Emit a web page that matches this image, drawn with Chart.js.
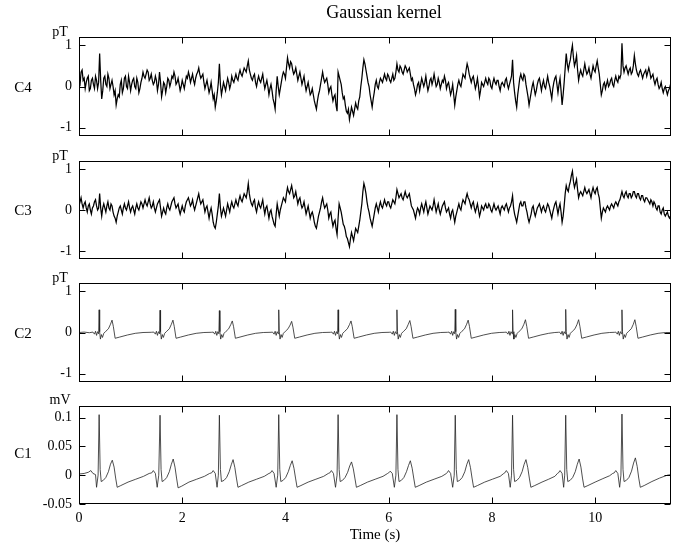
<!DOCTYPE html>
<html>
<head>
<meta charset="utf-8">
<script src="https://cdn.jsdelivr.net/npm/chart.js@4.4.1/dist/chart.umd.min.js"></script>
<style>
  html, body { margin: 0; padding: 0; background: #fff; }
  #wrap { position: relative; width: 681px; height: 545px; overflow: hidden;
          font-family: "Liberation Serif", "Times New Roman", serif; color: #000; }
  #wrap canvas { position: absolute; left: 0; top: 0; }
  .lbl { position: absolute; white-space: nowrap; line-height: 1; transform: translate(-50%, -50%); }
</style>
</head>
<body>
<div id="wrap">
  <canvas id="chC4" width="681" height="545"></canvas>
  <canvas id="chC3" width="681" height="545"></canvas>
  <canvas id="chC2" width="681" height="545"></canvas>
  <canvas id="chC1" width="681" height="545"></canvas>
  <div class="lbl" style="left:384px;top:12px;font-size:18px;">Gaussian kernel</div>
  <div class="lbl" style="left:23px;top:87px;font-size:15px;">C4</div>
  <div class="lbl" style="left:23px;top:210px;font-size:15px;">C3</div>
  <div class="lbl" style="left:23px;top:333px;font-size:15px;">C2</div>
  <div class="lbl" style="left:23px;top:453px;font-size:15px;">C1</div>
  <div class="lbl" style="left:60px;top:32px;font-size:14px;">pT</div>
  <div class="lbl" style="left:60px;top:156px;font-size:14px;">pT</div>
  <div class="lbl" style="left:60px;top:278px;font-size:14px;">pT</div>
  <div class="lbl" style="left:60px;top:400px;font-size:14px;">mV</div>
</div>
<script>
// Shared time axis
const timeMax = 11.47;
const xTickValues = [0, 2, 4, 6, 8, 10];
const xTickLabels = ['0', '2', '4', '6', '8', '10'];

// Vertical ticks: magnetic channels (pT) and electric channel (mV)
const pTTickValues = [-1, 0, 1];
const pTTickLabels = ['-1', '0', '1'];
const mVTickValues = [-0.05, 0, 0.05, 0.1];
const mVTickLabels = ['-0.05', '0', '0.05', '0.1'];

// C4 and C3 are sampled every 0.02 s starting at 0 s (pT); one row per ~1 s
const sampleStep = 0.02;

const c4Values = [
  0.10, 0.05, 0.35, 0.40, 0.15, 0.20, -0.05, 0.10, 0.20, 0.25, -0.10, -0.05, 0.15, 0.20, 0.05, -0.05, 0.25, 0.15, -0.05, 0.10, 0.80, 0.15, -0.30, -0.10, 0.20, 0.25, 0.05, 0.00, 0.30, 0.20, -0.05, 0.05, 0.15, 0.00, -0.20, -0.10, -0.45, -0.30, -0.20, -0.25, 0.05, 0.15, -0.15, -0.05, 0.20, 0.25, 0.00, -0.05, 0.25, 0.10,
  -0.10, 0.05, 0.15, 0.20, 0.00, -0.05, 0.20, 0.10, -0.15, -0.05, 0.10, 0.20, 0.35, 0.25, 0.20, 0.30, 0.40, 0.35, 0.15, 0.20, 0.30, 0.15, 0.05, 0.10, 0.25, 0.15, -0.10, 0.05, 0.35, 0.10, -0.25, -0.10, 0.10, 0.05, -0.15, 0.00, 0.20, 0.15, 0.00, 0.10, 0.25, 0.20, 0.35, 0.25, 0.05, 0.10, 0.20, 0.05, -0.10, 0.00, 0.15, 0.05,
  -0.05, 0.10, 0.25, 0.20, 0.35, 0.25, 0.10, 0.20, 0.30, 0.15, 0.05, 0.20, 0.30, 0.35, 0.45, 0.30, 0.20, 0.25, 0.30, 0.10, -0.05, 0.05, 0.15, 0.00, -0.15, -0.05, 0.10, -0.10, -0.30, -0.20, -0.50, -0.35, -0.15, 0.10, 0.55, 0.05, -0.20, -0.05, 0.10, 0.00, -0.10, 0.05, 0.20, 0.10, -0.05, 0.05, 0.25, 0.15, 0.10, 0.20,
  0.30, 0.20, 0.15, 0.30, 0.40, 0.30, 0.25, 0.35, 0.45, 0.40, 0.35, 0.50, 0.62, 0.40, 0.30, 0.20, 0.15, 0.25, 0.30, 0.10, 0.00, 0.15, 0.25, 0.15, 0.10, 0.20, 0.30, 0.10, -0.05, 0.05, 0.15, 0.00, -0.20, -0.05, 0.05, -0.10, -0.30, -0.40, -0.55, -0.10, 0.25, 0.00, -0.20, -0.05, 0.10, 0.25, 0.35, 0.30, 0.20, 0.45,
  0.70, 0.55, 0.45, 0.60, 0.55, 0.40, 0.30, 0.35, 0.45, 0.30, 0.15, 0.25, 0.35, 0.20, 0.05, 0.15, 0.25, 0.05, -0.10, 0.00, 0.10, -0.05, -0.20, -0.15, -0.05, -0.20, -0.35, -0.45, -0.55, -0.35, -0.20, -0.10, 0.05, 0.20, 0.35, 0.20, 0.10, 0.15, 0.20, 0.05, -0.15, -0.05, 0.00, -0.20, -0.35, -0.25, -0.20, -0.45, -0.60, 0.35,
  0.25, 0.15, 0.05, -0.15, -0.30, -0.25, -0.45, -0.60, -0.65, -0.55, -0.80, -0.65, -0.50, -0.60, -0.70, -0.55, -0.40, -0.50, -0.55, -0.35, -0.25, 0.00, 0.20, 0.45, 0.65, 0.55, 0.40, 0.25, 0.10, 0.00, -0.20, -0.35, -0.50, -0.30, -0.15, 0.05, 0.15, 0.00, -0.05, 0.10, 0.20, 0.15, 0.10, 0.20, 0.30, 0.20, 0.15, 0.30, 0.25, 0.15,
  0.10, 0.20, 0.30, 0.15, 0.20, 0.35, 0.55, 0.40, 0.35, 0.50, 0.45, 0.35, 0.30, 0.40, 0.50, 0.45, 0.35, 0.40, 0.45, 0.30, 0.15, 0.20, 0.05, -0.05, -0.20, -0.10, 0.05, 0.10, -0.10, 0.05, 0.20, 0.10, 0.00, 0.10, 0.25, 0.05, -0.10, 0.00, 0.15, 0.20, 0.05, 0.15, 0.30, 0.15, 0.00, 0.05, 0.20, 0.10, -0.05, 0.05,
  0.15, 0.10, 0.25, 0.15, -0.05, 0.05, 0.10, -0.05, -0.20, -0.10, 0.05, -0.20, -0.45, -0.25, -0.10, 0.05, 0.15, 0.05, 0.00, 0.15, 0.30, 0.25, 0.20, 0.40, 0.55, 0.45, 0.30, 0.20, 0.10, 0.20, 0.25, 0.10, -0.05, 0.05, 0.20, 0.00, -0.25, -0.10, 0.10, 0.05, 0.00, 0.10, 0.20, 0.10, 0.05, 0.20, 0.15, 0.00, -0.05, 0.10,
  0.20, 0.10, 0.05, 0.15, 0.15, 0.00, -0.10, 0.05, 0.10, 0.05, 0.00, 0.15, 0.20, 0.05, -0.05, 0.05, 0.15, 0.25, 0.65, 0.10, -0.15, -0.35, -0.50, -0.20, 0.00, 0.20, 0.30, 0.20, 0.15, 0.30, 0.25, 0.05, -0.10, -0.25, -0.45, -0.30, -0.15, 0.00, 0.10, -0.05, -0.20, -0.10, 0.05, 0.15, 0.20, 0.05, -0.10, 0.05, 0.15, 0.00,
  -0.05, 0.10, 0.25, 0.10, 0.00, -0.15, -0.30, -0.05, 0.10, 0.20, 0.25, 0.05, -0.15, 0.05, 0.20, -0.10, -0.45, -0.20, 0.10, 0.45, 0.80, 0.55, 0.40, 0.55, 0.65, 0.85, 1.00, 0.70, 0.50, 0.60, 0.75, 0.40, 0.15, 0.30, 0.40, 0.30, 0.25, 0.40, 0.55, 0.40, 0.30, 0.35, 0.45, 0.30, 0.20, 0.35, 0.50, 0.40, 0.35, 0.50,
  0.62, 0.45, 0.30, 0.05, -0.20, -0.10, 0.05, 0.10, -0.05, 0.05, 0.15, 0.00, 0.05, 0.15, 0.20, 0.05, 0.00, 0.15, 0.25, 0.15, 0.10, 0.25, 0.20, 0.30, 1.05, 0.50, 0.35, 0.45, 0.50, 0.40, 0.30, 0.40, 0.45, 0.30, 0.35, 0.50, 0.75, 0.55, 0.40, 0.30, 0.25, 0.35, 0.40, 0.30, 0.20, 0.30, 0.35, 0.40, 0.25, 0.35,
  0.45, 0.35, 0.20, 0.25, 0.30, 0.15, 0.05, 0.15, 0.20, 0.05, -0.05, 0.00, 0.10, -0.05, -0.15, -0.05, 0.00, -0.10, -0.20, -0.10, -0.05, 0.05, 0.00
];

const c3Values = [
  0.10, 0.20, 0.30, 0.15, 0.05, 0.15, 0.20, 0.05, -0.05, 0.10, 0.15, 0.00, -0.10, 0.05, 0.10, 0.20, 0.25, 0.10, 0.00, 0.05, 0.40, 0.05, -0.15, 0.05, 0.15, 0.05, -0.05, 0.10, 0.20, 0.05, 0.00, 0.15, 0.10, -0.05, -0.15, -0.20, -0.30, -0.15, -0.05, 0.05, 0.10, 0.00, -0.10, 0.05, 0.15, 0.05, 0.00, 0.10, 0.20, 0.05,
  -0.05, 0.05, 0.10, 0.00, -0.10, 0.05, 0.15, 0.05, 0.00, 0.10, 0.20, 0.15, 0.05, 0.15, 0.25, 0.15, 0.10, 0.20, 0.30, 0.15, 0.05, 0.10, 0.20, 0.05, -0.05, 0.05, 0.15, 0.20, 0.25, 0.05, -0.15, -0.05, 0.05, -0.05, -0.10, 0.05, 0.15, 0.05, 0.00, 0.10, 0.20, 0.25, 0.30, 0.15, 0.05, 0.10, 0.15, 0.00, -0.10, 0.00, 0.10, 0.00,
  -0.05, 0.10, 0.20, 0.25, 0.30, 0.20, 0.10, 0.15, 0.25, 0.10, 0.00, 0.10, 0.20, 0.30, 0.40, 0.25, 0.15, 0.20, 0.25, 0.10, -0.05, 0.05, 0.10, -0.05, -0.20, -0.05, 0.05, -0.10, -0.30, -0.40, -0.45, -0.30, -0.10, 0.10, 0.40, 0.05, -0.15, -0.05, 0.05, -0.05, -0.15, 0.00, 0.15, 0.05, -0.05, 0.10, 0.20, 0.10, 0.05, 0.15,
  0.25, 0.15, 0.10, 0.25, 0.35, 0.25, 0.20, 0.30, 0.40, 0.35, 0.30, 0.45, 0.65, 0.40, 0.25, 0.15, 0.10, 0.20, 0.25, 0.05, -0.05, 0.10, 0.20, 0.10, 0.05, 0.15, 0.25, 0.05, -0.10, 0.05, 0.10, -0.05, -0.20, -0.05, 0.00, -0.15, -0.25, -0.35, -0.40, -0.10, 0.15, 0.00, -0.15, 0.00, 0.10, 0.20, 0.30, 0.25, 0.20, 0.40,
  0.55, 0.45, 0.40, 0.50, 0.60, 0.45, 0.30, 0.35, 0.45, 0.30, 0.15, 0.25, 0.30, 0.15, 0.05, 0.10, 0.20, 0.05, -0.10, 0.00, 0.10, -0.05, -0.20, -0.10, -0.05, -0.15, -0.30, -0.40, -0.45, -0.30, -0.15, -0.05, 0.05, 0.20, 0.30, 0.15, 0.05, 0.10, 0.15, 0.00, -0.20, -0.10, -0.05, -0.25, -0.40, -0.30, -0.25, -0.45, -0.60, -0.20,
  0.15, 0.05, -0.05, -0.20, -0.35, -0.40, -0.50, -0.65, -0.70, -0.80, -0.90, -0.70, -0.55, -0.65, -0.75, -0.60, -0.45, -0.50, -0.55, -0.40, -0.25, -0.05, 0.15, 0.45, 0.65, 0.55, 0.40, 0.20, 0.05, -0.05, -0.20, -0.30, -0.40, -0.25, -0.10, 0.05, 0.15, 0.05, -0.05, 0.10, 0.20, 0.10, 0.05, 0.15, 0.25, 0.15, 0.10, 0.20, 0.20, 0.10,
  0.05, 0.15, 0.25, 0.20, 0.15, 0.30, 0.50, 0.40, 0.30, 0.35, 0.40, 0.30, 0.25, 0.35, 0.45, 0.35, 0.30, 0.35, 0.40, 0.25, 0.10, 0.05, 0.00, -0.10, -0.20, -0.05, 0.05, 0.00, -0.10, 0.05, 0.15, 0.05, -0.05, 0.10, 0.20, 0.05, -0.10, 0.00, 0.10, 0.05, 0.00, 0.10, 0.25, 0.10, -0.05, 0.05, 0.15, 0.00, -0.10, 0.00,
  0.10, 0.15, 0.20, 0.05, -0.05, 0.00, 0.05, -0.10, -0.20, -0.05, 0.00, -0.15, -0.30, -0.15, -0.05, 0.05, 0.15, 0.05, 0.00, 0.15, 0.25, 0.20, 0.15, 0.30, 0.40, 0.30, 0.25, 0.15, 0.05, 0.15, 0.20, 0.05, -0.05, 0.05, 0.15, 0.00, -0.15, -0.05, 0.10, 0.05, 0.00, 0.10, 0.15, 0.05, 0.05, 0.15, 0.10, 0.00, -0.05, 0.05,
  0.15, 0.05, 0.00, 0.05, 0.10, 0.00, -0.10, 0.05, 0.10, 0.05, 0.00, 0.10, 0.15, 0.05, -0.05, 0.05, 0.10, 0.20, 0.35, 0.05, -0.10, -0.20, -0.30, -0.15, 0.00, 0.15, 0.20, 0.10, 0.10, 0.20, 0.20, 0.05, -0.05, -0.20, -0.30, -0.20, -0.10, 0.05, 0.10, -0.05, -0.15, -0.05, 0.05, 0.10, 0.15, 0.05, -0.05, 0.05, 0.10, 0.00,
  -0.05, 0.05, 0.15, 0.10, 0.00, -0.10, -0.20, -0.05, 0.05, 0.15, 0.20, 0.05, -0.10, 0.05, 0.15, -0.05, -0.30, -0.15, 0.10, 0.40, 0.60, 0.50, 0.45, 0.60, 0.70, 0.85, 0.95, 0.70, 0.55, 0.65, 0.75, 0.50, 0.30, 0.40, 0.45, 0.40, 0.35, 0.45, 0.55, 0.45, 0.40, 0.45, 0.50, 0.40, 0.30, 0.45, 0.55, 0.45, 0.40, 0.50,
  0.55, 0.40, 0.30, 0.05, -0.20, -0.05, 0.05, 0.00, -0.05, 0.05, 0.10, 0.05, 0.00, 0.10, 0.15, 0.10, 0.05, 0.15, 0.20, 0.15, 0.10, 0.20, 0.25, 0.35, 0.45, 0.35, 0.30, 0.40, 0.45, 0.35, 0.30, 0.40, 0.40, 0.30, 0.35, 0.45, 0.45, 0.35, 0.30, 0.40, 0.40, 0.30, 0.25, 0.35, 0.35, 0.25, 0.20, 0.30, 0.30, 0.25,
  0.20, 0.15, 0.25, 0.20, 0.10, 0.20, 0.15, 0.05, 0.00, 0.10, 0.10, -0.05, -0.10, 0.00, 0.05, -0.10, -0.15, -0.10, -0.05, -0.15, -0.20, -0.15, -0.10
];

// C2 trace: [time (s), field (pT)]
const c2Trace = [
  [0.00, 0.00], [0.10, 0.01], [0.20, -0.005],
  [0.27, 0.01], [0.30, -0.04], [0.32, 0.03], [0.34, -0.07], [0.36, 0.02], [0.38, -0.03], [0.39, 0.55], [0.40, 0.02], [0.415, -0.16], [0.435, -0.05], [0.455, -0.12], [0.48, -0.02], [0.52, 0.03], [0.57, 0.09], [0.61, 0.20], [0.64, 0.30], [0.665, 0.15], [0.70, -0.14], [0.79, -0.11], [0.94, -0.06], [1.09, -0.02], [1.24, 0.00], [1.40, 0.005],
  [1.45, 0.01], [1.48, -0.04], [1.50, 0.03], [1.52, -0.07], [1.54, 0.02], [1.56, -0.03], [1.57, 0.54], [1.58, 0.02], [1.595, -0.16], [1.615, -0.05], [1.635, -0.12], [1.66, -0.02], [1.70, 0.03], [1.75, 0.09], [1.79, 0.20], [1.82, 0.30], [1.845, 0.15], [1.88, -0.14], [1.97, -0.11], [2.12, -0.06], [2.27, -0.02], [2.42, 0.00], [2.57, 0.005],
  [2.60, 0.01], [2.63, -0.04], [2.65, 0.03], [2.67, -0.07], [2.69, 0.02], [2.71, -0.03], [2.72, 0.53], [2.73, 0.02], [2.745, -0.16], [2.765, -0.05], [2.785, -0.12], [2.81, -0.02], [2.85, 0.03], [2.90, 0.09], [2.94, 0.19], [2.97, 0.28], [2.995, 0.14], [3.03, -0.14], [3.12, -0.11], [3.27, -0.06], [3.42, -0.02], [3.57, 0.00], [3.72, 0.005],
  [3.75, 0.01], [3.78, -0.04], [3.80, 0.03], [3.82, -0.07], [3.84, 0.02], [3.86, -0.03], [3.87, 0.55], [3.88, 0.02], [3.895, -0.16], [3.915, -0.05], [3.935, -0.12], [3.96, -0.02], [4.00, 0.03], [4.05, 0.09], [4.09, 0.18], [4.12, 0.27], [4.145, 0.13], [4.18, -0.14], [4.27, -0.11], [4.42, -0.06], [4.57, -0.02], [4.72, 0.00], [4.87, 0.005],
  [4.90, 0.01], [4.93, -0.04], [4.95, 0.03], [4.97, -0.07], [4.99, 0.02], [5.01, -0.03], [5.02, 0.55], [5.03, 0.02], [5.045, -0.16], [5.065, -0.05], [5.085, -0.12], [5.11, -0.02], [5.15, 0.03], [5.20, 0.09], [5.24, 0.19], [5.27, 0.28], [5.295, 0.14], [5.33, -0.14], [5.42, -0.11], [5.57, -0.06], [5.72, -0.02], [5.87, 0.00], [6.01, 0.005],
  [6.04, 0.01], [6.07, -0.04], [6.09, 0.03], [6.11, -0.07], [6.13, 0.02], [6.15, -0.03], [6.16, 0.55], [6.17, 0.02], [6.185, -0.16], [6.205, -0.05], [6.225, -0.12], [6.25, -0.02], [6.29, 0.03], [6.34, 0.09], [6.38, 0.20], [6.41, 0.29], [6.435, 0.14], [6.47, -0.14], [6.56, -0.11], [6.71, -0.06], [6.86, -0.02], [7.01, 0.00], [7.14, 0.005],
  [7.17, 0.01], [7.20, -0.04], [7.22, 0.03], [7.24, -0.07], [7.26, 0.02], [7.28, -0.03], [7.29, 0.56], [7.30, 0.02], [7.315, -0.16], [7.335, -0.05], [7.355, -0.12], [7.38, -0.02], [7.42, 0.03], [7.47, 0.09], [7.51, 0.20], [7.54, 0.30], [7.565, 0.15], [7.60, -0.14], [7.69, -0.11], [7.84, -0.06], [7.99, -0.02], [8.14, 0.00], [8.25, 0.005],
  [8.28, 0.01], [8.31, -0.04], [8.33, 0.03], [8.35, -0.07], [8.37, 0.02], [8.39, -0.03], [8.40, 0.55], [8.41, 0.02], [8.425, -0.16], [8.445, -0.05], [8.465, -0.12], [8.49, -0.02], [8.53, 0.03], [8.58, 0.09], [8.62, 0.20], [8.65, 0.31], [8.675, 0.15], [8.71, -0.14], [8.80, -0.11], [8.95, -0.06], [9.10, -0.02], [9.22, 0.00], [9.29, 0.005],
  [9.31, 0.01], [9.34, -0.04], [9.36, 0.03], [9.38, -0.07], [9.40, 0.02], [9.42, -0.03], [9.43, 0.56], [9.44, 0.02], [9.455, -0.16], [9.475, -0.05], [9.495, -0.12], [9.52, -0.02], [9.56, 0.03], [9.61, 0.09], [9.65, 0.20], [9.68, 0.31], [9.705, 0.15], [9.74, -0.14], [9.83, -0.11], [9.98, -0.06], [10.13, -0.02], [10.28, 0.00], [10.38, 0.005],
  [10.40, 0.01], [10.43, -0.04], [10.45, 0.03], [10.47, -0.07], [10.49, 0.02], [10.51, -0.03], [10.52, 0.55], [10.53, 0.02], [10.545, -0.16], [10.565, -0.05], [10.585, -0.12], [10.61, -0.02], [10.65, 0.03], [10.70, 0.09], [10.74, 0.20], [10.77, 0.31], [10.795, 0.15], [10.83, -0.14], [10.92, -0.11], [11.07, -0.06], [11.22, -0.02], [11.37, 0.00], [11.47, 0.00]
];

// C1 trace: [time (s), potential (mV)]
const c1Trace = [
  [0.00, 0.002], [0.10, 0.003], [0.18, 0.005], [0.23, 0.008], [0.27, 0.003], [0.32, 0.001], [0.34, -0.021], [0.37, 0.000], [0.39, 0.105], [0.41, 0.010], [0.43, -0.011], [0.47, -0.009], [0.52, -0.004], [0.57, 0.006], [0.61, 0.019], [0.645, 0.026], [0.68, 0.014], [0.71, -0.005], [0.74, -0.021], [0.81, -0.018], [0.95, -0.012], [1.10, -0.007], [1.25, -0.002], [1.36, 0.003],
  [1.41, 0.004], [1.44, 0.008], [1.48, 0.003], [1.515, -0.021], [1.545, 0.000], [1.57, 0.104], [1.59, 0.010], [1.61, -0.011], [1.65, -0.009], [1.70, -0.004], [1.75, 0.006], [1.79, 0.019], [1.825, 0.028], [1.86, 0.014], [1.89, -0.005], [1.92, -0.022], [1.99, -0.019], [2.13, -0.012], [2.28, -0.007], [2.43, -0.002], [2.53, 0.003],
  [2.57, 0.004], [2.60, 0.008], [2.64, 0.003], [2.675, -0.021], [2.70, 0.000], [2.72, 0.104], [2.74, 0.010], [2.76, -0.011], [2.81, -0.009], [2.86, -0.004], [2.91, 0.006], [2.95, 0.018], [2.985, 0.027], [3.02, 0.013], [3.05, -0.005], [3.08, -0.021], [3.15, -0.018], [3.29, -0.012], [3.44, -0.007], [3.59, -0.002], [3.68, 0.003],
  [3.71, 0.004], [3.74, 0.008], [3.78, 0.003], [3.82, -0.021], [3.85, 0.000], [3.87, 0.105], [3.89, 0.010], [3.91, -0.011], [3.955, -0.009], [4.005, -0.004], [4.055, 0.006], [4.095, 0.017], [4.13, 0.025], [4.165, 0.012], [4.195, -0.005], [4.225, -0.021], [4.30, -0.018], [4.44, -0.012], [4.59, -0.007], [4.74, -0.002], [4.83, 0.003],
  [4.86, 0.004], [4.89, 0.008], [4.93, 0.003], [4.97, -0.021], [5.00, 0.000], [5.02, 0.105], [5.04, 0.010], [5.06, -0.011], [5.105, -0.009], [5.155, -0.004], [5.205, 0.005], [5.245, 0.016], [5.28, 0.023], [5.315, 0.011], [5.345, -0.005], [5.375, -0.021], [5.45, -0.018], [5.59, -0.012], [5.74, -0.007], [5.89, -0.002], [5.98, 0.003],
  [6.00, 0.004], [6.03, 0.007], [6.07, 0.003], [6.11, -0.021], [6.14, 0.000], [6.16, 0.105], [6.18, 0.010], [6.20, -0.011], [6.245, -0.009], [6.295, -0.004], [6.345, 0.006], [6.385, 0.017], [6.42, 0.025], [6.455, 0.012], [6.485, -0.005], [6.515, -0.021], [6.59, -0.018], [6.73, -0.012], [6.88, -0.007], [7.03, -0.002], [7.12, 0.003],
  [7.13, 0.004], [7.16, 0.008], [7.20, 0.003], [7.24, -0.021], [7.27, 0.000], [7.29, 0.104], [7.31, 0.010], [7.33, -0.011], [7.375, -0.009], [7.425, -0.004], [7.475, 0.006], [7.515, 0.019], [7.55, 0.027], [7.585, 0.013], [7.615, -0.005], [7.645, -0.021], [7.72, -0.018], [7.86, -0.012], [8.01, -0.007], [8.16, -0.002], [8.23, 0.003],
  [8.25, 0.004], [8.28, 0.008], [8.32, 0.003], [8.355, -0.021], [8.38, 0.000], [8.40, 0.104], [8.42, 0.010], [8.44, -0.011], [8.485, -0.009], [8.535, -0.004], [8.585, 0.006], [8.625, 0.019], [8.66, 0.027], [8.695, 0.013], [8.725, -0.005], [8.755, -0.021], [8.83, -0.018], [8.97, -0.012], [9.10, -0.007], [9.22, -0.002], [9.27, 0.003],
  [9.29, 0.004], [9.32, 0.008], [9.36, 0.003], [9.39, -0.021], [9.41, 0.000], [9.43, 0.104], [9.45, 0.010], [9.47, -0.011], [9.515, -0.009], [9.565, -0.004], [9.615, 0.006], [9.655, 0.019], [9.69, 0.028], [9.725, 0.014], [9.755, -0.005], [9.785, -0.021], [9.86, -0.018], [10.00, -0.012], [10.15, -0.006], [10.28, -0.001], [10.34, 0.003],
  [10.37, 0.004], [10.40, 0.008], [10.44, 0.003], [10.475, -0.021], [10.50, 0.000], [10.52, 0.106], [10.54, 0.010], [10.56, -0.011], [10.605, -0.009], [10.655, -0.004], [10.705, 0.007], [10.745, 0.021], [10.78, 0.030], [10.815, 0.015], [10.845, -0.005], [10.875, -0.021], [10.95, -0.018], [11.10, -0.011], [11.25, -0.005], [11.40, 0.000], [11.47, 0.001]
];

const serif = 'Liberation Serif';

// Box frame with inward tick marks on all four sides
const frameTicks = {
  id: 'frameTicks',
  afterDatasetsDraw(chart) {
    const { ctx, chartArea: a, scales: { x, y } } = chart;
    const L = Math.round(a.left) + 0.5, R = Math.round(a.right) - 0.5;
    const T = Math.round(a.top) + 0.5, B = Math.round(a.bottom) - 0.5;
    const len = 6;
    ctx.save();
    ctx.strokeStyle = '#000';
    ctx.lineWidth = 1;
    ctx.strokeRect(L, T, R - L, B - T);
    ctx.beginPath();
    x.ticks.forEach(t => {
      const px = Math.round(x.getPixelForValue(t.value)) + 0.5;
      ctx.moveTo(px, T); ctx.lineTo(px, T + len);
      ctx.moveTo(px, B); ctx.lineTo(px, B - len);
    });
    y.ticks.forEach(t => {
      const py = Math.round(y.getPixelForValue(t.value)) + 0.5;
      ctx.moveTo(L, py); ctx.lineTo(L + len, py);
      ctx.moveTo(R, py); ctx.lineTo(R - len, py);
    });
    ctx.stroke();
    ctx.restore();
  }
};

function makePanel(canvasId, points, p) {
  return new Chart(document.getElementById(canvasId), {
    type: 'line',
    data: {
      datasets: [{
        data: points,
        borderColor: p.color,
        borderWidth: p.lineWidth,
        pointRadius: 0,
        tension: 0,
        fill: false
      }]
    },
    options: {
      responsive: false,
      animation: false,
      events: [],
      layout: { padding: { left: 0, right: 681 - p.right, top: p.top, bottom: 545 - p.bottom - p.axisHeight } },
      plugins: { legend: { display: false }, tooltip: { enabled: false }, title: { display: false } },
      scales: {
        x: {
          type: 'linear', min: 0, max: timeMax,
          grid: { display: false, drawTicks: false },
          border: { display: false },
          afterBuildTicks: s => { s.ticks = xTickValues.map(v => ({ value: v })); },
          afterFit: s => { s.height = p.axisHeight; },
          ticks: {
            display: p.showTime, padding: 6, color: '#000', maxRotation: 0, autoSkip: false,
            font: { family: serif, size: 14 },
            callback: (v, i) => xTickLabels[i]
          },
          title: {
            display: p.showTime, text: 'Time (s)', color: '#000',
            font: { family: serif, size: 15 }, padding: { top: 0, bottom: 0 }
          }
        },
        y: {
          type: 'linear', min: p.yMin, max: p.yMax,
          grid: { display: false, drawTicks: false },
          border: { display: false },
          afterBuildTicks: s => { s.ticks = p.tickValues.map(v => ({ value: v })); },
          afterFit: s => { s.width = p.left; },
          ticks: {
            padding: 7, color: '#000', autoSkip: false,
            font: { family: serif, size: 14 },
            callback: (v, i) => p.tickLabels[i]
          }
        }
      }
    },
    plugins: [frameTicks]
  });
}

const sampled = vals => vals.map((v, i) => ({ x: i * sampleStep, y: v }));
const traced = pairs => pairs.map(([t, v]) => ({ x: t, y: v }));

const common = { left: 79, right: 671 };

makePanel('chC4', sampled(c4Values), Object.assign({}, common, {
  top: 37, bottom: 136, axisHeight: 0, showTime: false,
  yMin: -1.2, yMax: 1.2, tickValues: pTTickValues, tickLabels: pTTickLabels,
  color: '#000', lineWidth: 1.25
}));
makePanel('chC3', sampled(c3Values), Object.assign({}, common, {
  top: 161, bottom: 259, axisHeight: 0, showTime: false,
  yMin: -1.2, yMax: 1.2, tickValues: pTTickValues, tickLabels: pTTickLabels,
  color: '#000', lineWidth: 1.25
}));
makePanel('chC2', traced(c2Trace), Object.assign({}, common, {
  top: 283, bottom: 382, axisHeight: 0, showTime: false,
  yMin: -1.2, yMax: 1.2, tickValues: pTTickValues, tickLabels: pTTickLabels,
  color: '#222', lineWidth: 0.8
}));
makePanel('chC1', traced(c1Trace), Object.assign({}, common, {
  top: 406, bottom: 504, axisHeight: 40, showTime: true,
  yMin: -0.05, yMax: 0.12, tickValues: mVTickValues, tickLabels: mVTickLabels,
  color: '#222', lineWidth: 0.8
}));
</script>
</body>
</html>
